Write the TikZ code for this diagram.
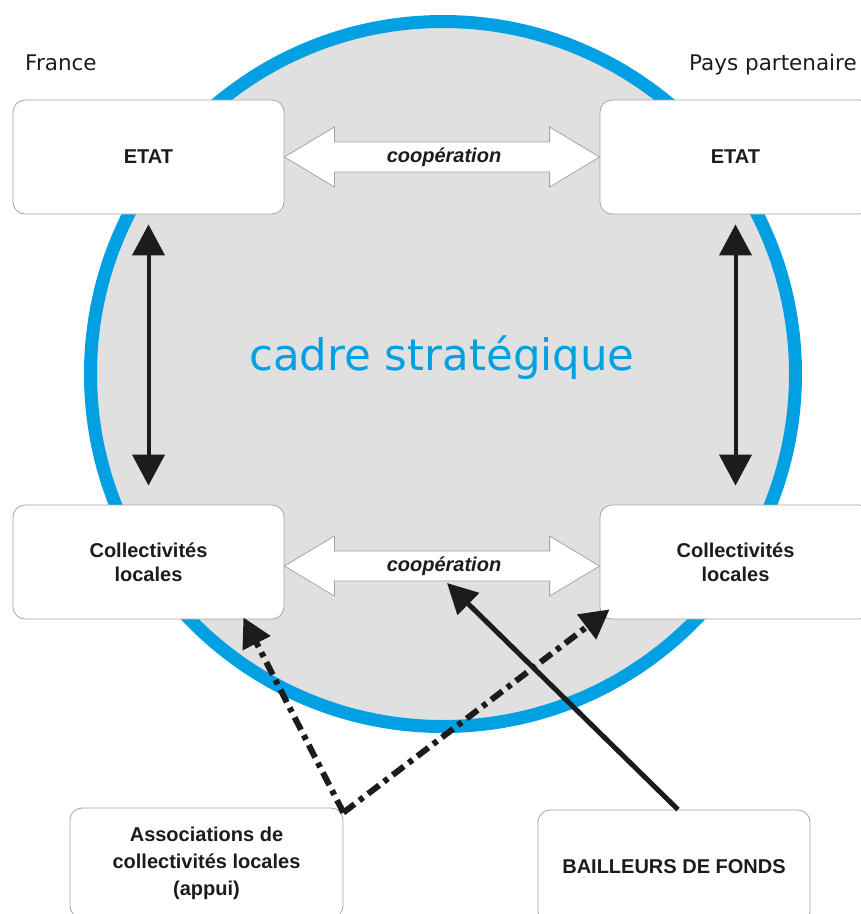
\documentclass[tikz,border=0pt]{standalone}
\usepackage{fontspec}
\setmainfont{Liberation Sans}
\newfontfamily\widesans{DejaVu Sans}
\definecolor{ringblue}{RGB}{0, 160, 227}
\definecolor{framegray}{RGB}{224, 224, 224}
\definecolor{edgegray}{RGB}{165, 165, 165}
\definecolor{inkblack}{RGB}{28, 28, 28}
\usetikzlibrary{shapes, arrows.meta, positioning, calc}

\tikzset{
  actor/.style={draw=edgegray, fill=white, line width=0.8pt, rounded corners=12pt,
    minimum width=271pt, minimum height=114pt, align=center, text=inkblack,
    font=\fontsize{20}{24}\selectfont\bfseries},
  coop/.style={draw=edgegray, fill=white, line width=0.8pt},
  coopword/.style={font=\fontsize{20}{24}\selectfont\bfseries\itshape, text=inkblack, inner sep=0pt},
  link/.style={line width=4pt, inkblack,
    {Triangle[length=31pt, width=32pt]}-{Triangle[length=31pt, width=32pt]}},
  fund/.style={line width=5pt, inkblack, -{Triangle[length=30pt, width=30pt]}},
  support/.style={line width=6pt, inkblack, dash pattern=on 14pt off 6pt on 5pt off 6pt,
    -{Triangle[length=29pt, width=30pt]}},
  place/.style={font=\widesans\fontsize{21.5}{26}\selectfont, text=inkblack, inner sep=0pt}
}

\begin{document}
\begin{tikzpicture}[x=1pt, y=-1pt]
  \clip (0,0) rectangle (861,914);

  % --- Strategic frame ---
  \draw[line width=13pt, ringblue, fill=framegray] (443,374) circle (352.5);
  \node[font=\widesans\fontsize{43.5}{52}\selectfont, text=ringblue, anchor=base] (frame) at (442,370) {cadre stratégique};

  % --- Sides ---
  \node[place, anchor=base west] (france) at (25,70) {France};
  \node[place, anchor=base east] (partner) at (857,70) {Pays partenaire};

  % --- Actors ---
  \node[actor] (etatF) at (148.5,157) {ETAT};
  \node[actor] (etatP) at (735.5,157) {ETAT};
  \node[actor] (collF) at (148.5,562) {Collectivités\\locales};
  \node[actor] (collP) at (735.5,562) {Collectivités\\locales};
  \node[actor, minimum width=273pt, minimum height=110pt, font=\fontsize{20}{27}\selectfont\bfseries] (assoc) at (206.5,863) {Associations de\\collectivités locales\\(appui)};
  \node[actor, minimum width=272pt, minimum height=114pt] (bail) at (674,867) {BAILLEURS DE FONDS};

  % --- Cooperation arrows ---
  \foreach \a/\b/\dy in {etatF/etatP/0, collF/collP/4} {
    \draw[coop] ([yshift=-\dy pt]\a.east) -- ++(50,-30) -- ++(0,15)
      -- ($([yshift=-\dy pt]\b.west)+(-50,-15)$) -- ++(0,-15) -- ([yshift=-\dy pt]\b.west)
      -- ++(-50,30) -- ++(0,-15) -- ($([yshift=-\dy pt]\a.east)+(50,15)$) -- ++(0,15) -- cycle;
    \node[coopword] (word\a) at ($(\a.east)!0.5!(\b.west)+(2,\dy)$) {coopération};
  }

  % --- State / local links ---
  \foreach \a/\b in {etatF/collF, etatP/collP} {
    \draw[link, shorten <=10pt, shorten >=19pt] (\a.south) -- (\b.north);
  }

  % --- Funders and support ---
  \coordinate (fundtip) at (447,583);
  \draw[fund] ([xshift=4pt]bail.north) -- (fundtip);
  \draw[support] ([yshift=-5pt]assoc.north east) -- ($(collF.south east)+(-41,-2)$);
  \draw[support] ([yshift=-5pt]assoc.north east) -- ($(collP.south west)+(10,-10)$);
\end{tikzpicture}
\end{document}
